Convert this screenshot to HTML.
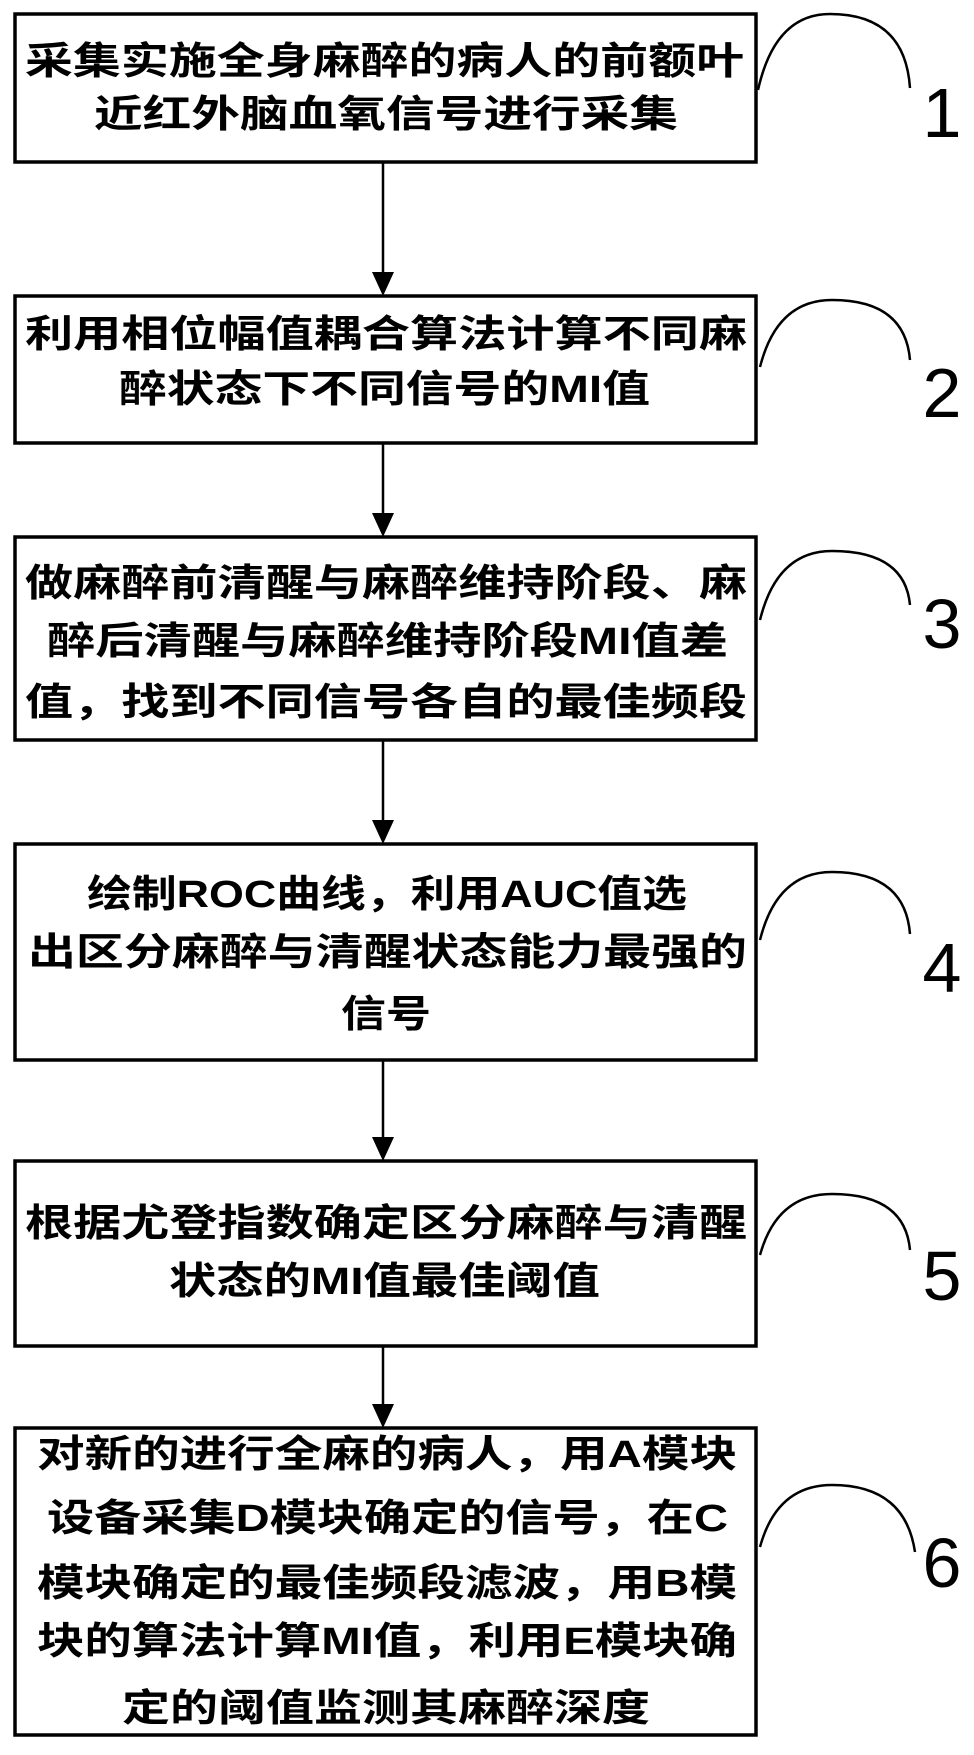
<!DOCTYPE html>
<html><head><meta charset="utf-8"><style>
html,body{margin:0;padding:0;background:#fff;}
svg{display:block}
text.t{font-family:"Liberation Sans","Noto Sans CJK SC",sans-serif;font-weight:bold;font-size:38px;fill:#000}
text.n{font-family:"Liberation Sans",sans-serif;font-size:70px;fill:#000}
</style></head><body>
<svg width="974" height="1755" viewBox="0 0 974 1755" xmlns="http://www.w3.org/2000/svg">
<g fill="none" stroke="#000" stroke-width="3.5">
<rect x="15" y="14" width="741" height="148"/>
<rect x="15" y="296" width="741" height="147"/>
<rect x="15" y="537" width="741" height="203"/>
<rect x="15" y="844" width="741" height="216"/>
<rect x="15" y="1161" width="741" height="185"/>
<rect x="15" y="1428" width="741" height="307"/>
</g>
<g stroke="#000" stroke-width="2.5">
<line x1="383" y1="162" x2="383" y2="278"/>
<line x1="383" y1="443" x2="383" y2="519"/>
<line x1="383" y1="740" x2="383" y2="826"/>
<line x1="383" y1="1060" x2="383" y2="1143"/>
<line x1="383" y1="1346" x2="383" y2="1410"/>
</g>
<g fill="#000">
<polygon points="372,272 394,272 383,296"/>
<polygon points="372,513 394,513 383,537"/>
<polygon points="372,820 394,820 383,844"/>
<polygon points="372,1137 394,1137 383,1161"/>
<polygon points="372,1404 394,1404 383,1428"/>
</g>
<g fill="none" stroke="#000" stroke-width="2.5">
<path d="M758,90 Q775,14 830,14 Q905,14 910,88"/>
<path d="M760,367 Q777,300 832,300 Q905,300 910,360"/>
<path d="M760,620 Q777,551 832,551 Q905,551 910,605"/>
<path d="M760,940 Q777,872 832,872 Q905,872 910,934"/>
<path d="M760,1255 Q777,1194 832,1194 Q905,1194 910,1250"/>
<path d="M760,1547 Q777,1485 832,1485 Q905,1485 915,1552"/>
</g>
<text class="n" x="942" y="137" text-anchor="middle">1</text>
<text class="n" x="942" y="417" text-anchor="middle">2</text>
<text class="n" x="942" y="648" text-anchor="middle">3</text>
<text class="n" x="942" y="992" text-anchor="middle">4</text>
<text class="n" x="942" y="1300" text-anchor="middle">5</text>
<text class="n" x="942" y="1587" text-anchor="middle">6</text>

<text class="t" x="25" y="74" textLength="719" lengthAdjust="spacingAndGlyphs">采集实施全身麻醉的病人的前额叶</text>
<text class="t" x="94" y="127" textLength="584" lengthAdjust="spacingAndGlyphs">近红外脑血氧信号进行采集</text>

<text class="t" x="25" y="347" textLength="722" lengthAdjust="spacingAndGlyphs">利用相位幅值耦合算法计算不同麻</text>
<text class="t" x="119" y="402" textLength="531" lengthAdjust="spacingAndGlyphs">醉状态下不同信号的MI值</text>

<text class="t" x="25" y="596" textLength="722" lengthAdjust="spacingAndGlyphs">做麻醉前清醒与麻醉维持阶段、麻</text>
<text class="t" x="47" y="654" textLength="681" lengthAdjust="spacingAndGlyphs">醉后清醒与麻醉维持阶段MI值差</text>
<text class="t" x="25" y="715" textLength="722" lengthAdjust="spacingAndGlyphs">值，找到不同信号各自的最佳频段</text>

<text class="t" x="87" y="907" textLength="600" lengthAdjust="spacingAndGlyphs">绘制ROC曲线，利用AUC值选</text>
<text class="t" x="28" y="965" textLength="719" lengthAdjust="spacingAndGlyphs">出区分麻醉与清醒状态能力最强的</text>
<text class="t" x="341" y="1027" textLength="90" lengthAdjust="spacingAndGlyphs">信号</text>

<text class="t" x="25" y="1236" textLength="722" lengthAdjust="spacingAndGlyphs">根据尤登指数确定区分麻醉与清醒</text>
<text class="t" x="169" y="1294" textLength="431" lengthAdjust="spacingAndGlyphs">状态的MI值最佳阈值</text>

<text class="t" x="37" y="1467" textLength="700" lengthAdjust="spacingAndGlyphs">对新的进行全麻的病人，用A模块</text>
<text class="t" x="47" y="1531" textLength="681" lengthAdjust="spacingAndGlyphs">设备采集D模块确定的信号，在C</text>
<text class="t" x="37" y="1596" textLength="700" lengthAdjust="spacingAndGlyphs">模块确定的最佳频段滤波，用B模</text>
<text class="t" x="37" y="1654" textLength="700" lengthAdjust="spacingAndGlyphs">块的算法计算MI值，利用E模块确</text>
<text class="t" x="122" y="1721" textLength="528" lengthAdjust="spacingAndGlyphs">定的阈值监测其麻醉深度</text>
</svg>
</body></html>
